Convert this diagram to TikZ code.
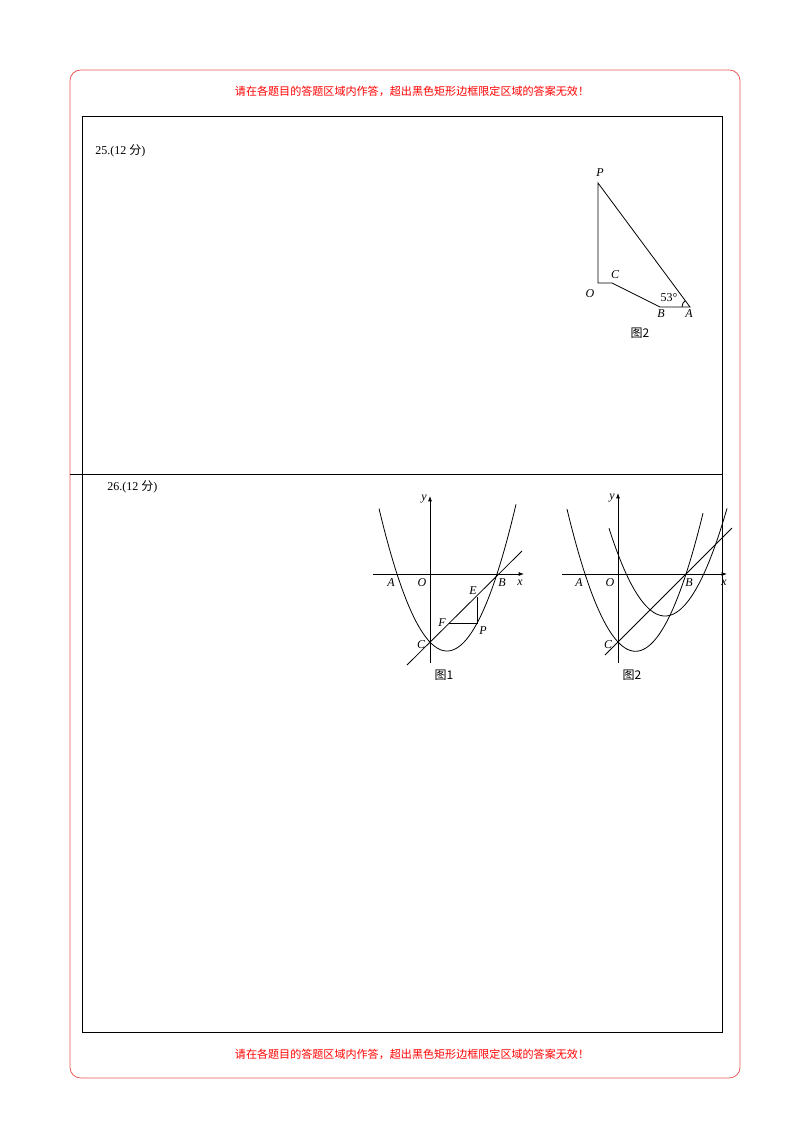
\documentclass[tikz,border=0pt]{standalone}
\usepackage{fontspec}
\setmainfont{Liberation Serif}
\newfontfamily\cjk{Noto Sans CJK SC}
\usetikzlibrary{arrows.meta}
\definecolor{redb}{RGB}{235,90,90}
\begin{document}
\begin{tikzpicture}[x=0.75pt,y=-0.75pt,
 lab/.style={font=\fontsize{9}{10}\selectfont\itshape,inner sep=0pt},
 figcap/.style={font=\fontsize{9}{10}\selectfont\cjk,inner sep=0pt},
 ln/.style={line width=0.6pt},
 ax/.style={line width=0.6pt,-{Latex[length=4pt,width=3pt]}}]
\useasboundingbox (0,0) rectangle (800,1132);
\fill[white] (0,0) rectangle (800,1132);
\draw[redb,line width=0.6pt,rounded corners=8pt] (70,70) rectangle (740,1078);
\node[text=red,font=\fontsize{8.3}{9}\selectfont\cjk] (hd) at (412,91) {请在各题目的答题区域内作答，超出黑色矩形边框限定区域的答案无效！};
\node[text=red,font=\fontsize{8.3}{9}\selectfont\cjk] (ft) at (412,1054) {请在各题目的答题区域内作答，超出黑色矩形边框限定区域的答案无效！};
\draw[line width=0.7pt] (82,116) rectangle (722,1032);
\draw[line width=0.7pt] (70,474) -- (722,474);
\node[anchor=west,font=\fontsize{9}{10}\selectfont,inner sep=0pt] (q25) at (95,151) {25.(12 {\cjk 分})};
\node[anchor=west,font=\fontsize{9}{10}\selectfont,inner sep=0pt] (q26) at (107,487) {26.(12 {\cjk 分})};
% triangle figure
\coordinate (P) at (598,183); \coordinate (O) at (598,283); \coordinate (C) at (612,283);
\coordinate (B) at (660,307); \coordinate (A) at (690,307);
\draw[ln] (P)--(O)--(C)--(B)--(A)--cycle;
\draw[ln] (682,307) arc[start angle=180,end angle=233,radius=8];
\node[lab] at (600,173) {P}; \node[lab] at (590,294) {O}; \node[lab] at (615,275) {C};
\node[lab] at (661,314) {B}; \node[lab] at (689,314) {A};
\node[font=\fontsize{9}{10}\selectfont,inner sep=0pt] at (669,298) {53°};
\node[figcap] at (640,333) {图2};
% fig 1
\draw[ax] (373,574)--(524,574); \draw[ax] (430,663)--(430,496);
\draw[ln,domain=379:516,samples=60] plot (\x,{574-0.0308*(\x-397)*(\x-497)});
\draw[ln] (407,665)--(522,551);
\coordinate (E1) at (477,597); \coordinate (P1) at (477,623); \coordinate (F1) at (448.7,623);
\draw[ln] (E1)--(P1)--(F1);
\node[lab] at (424,499) {y}; \node[lab] at (520,583) {x}; \node[lab] at (391,583) {A};
\node[lab] at (422,583) {O}; \node[lab] at (502,583) {B}; \node[lab] at (473,591) {E};
\node[lab] at (442,623) {F}; \node[lab] at (483,631) {P}; \node[lab] at (421,645) {C};
\node[figcap] at (444,675) {图1};
% fig 2
\draw[ax] (562,574)--(727,574); \draw[ax] (618,663)--(618,493);
\draw[ln,domain=567:703,samples=60] plot (\x,{574-0.0303*(\x-585)*(\x-686)});
\draw[ln,domain=609:727,samples=60] plot (\x,{616-0.028*(\x-665)*(\x-665)});
\draw[ln] (605,655)--(732,528);
\node[lab] at (612,498) {y}; \node[lab] at (724,583) {x}; \node[lab] at (579,583) {A};
\node[lab] at (610,583) {O}; \node[lab] at (689,583) {B}; \node[lab] at (608,645) {C};
\node[figcap] at (632,675) {图2};
\end{tikzpicture}
\end{document}
